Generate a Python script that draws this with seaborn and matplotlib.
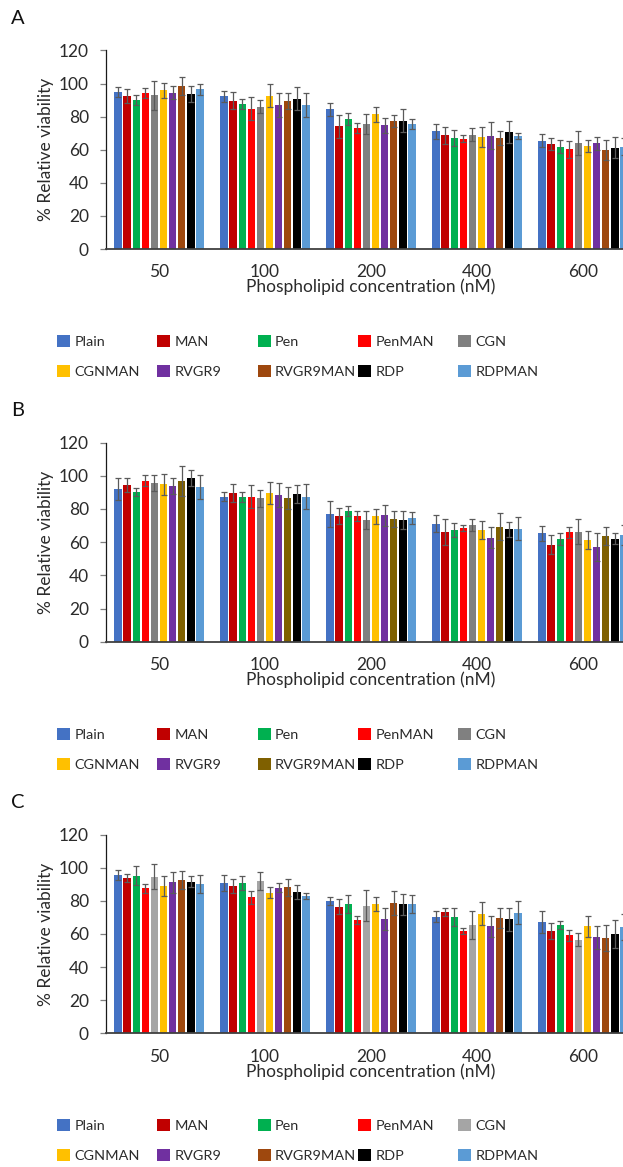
import numpy as np
import pandas as pd
import matplotlib
matplotlib.use("Agg")
import matplotlib.pyplot as plt
from matplotlib.patches import Patch
import seaborn as sns

# ---------------- data ----------------
concentrations = ["50", "100", "200", "400", "600"]
formulations = ["Plain", "MAN", "Pen", "PenMAN", "CGN",
                "CGNMAN", "RVGR9", "RVGR9MAN", "RDP", "RDPMAN"]

# rows = concentrations, columns = formulations
A_mean = [[95.0, 92.4, 90.0, 94.0, 92.8, 96.0, 94.4, 98.4, 93.6, 96.6],
          [92.2, 89.6, 87.6, 84.7, 86.0, 92.6, 87.0, 89.4, 90.8, 87.0],
          [84.5, 74.1, 78.5, 73.3, 75.5, 81.3, 74.7, 77.1, 77.5, 75.3],
          [71.1, 68.7, 67.1, 66.7, 69.1, 67.5, 68.5, 67.1, 70.7, 68.3],
          [65.5, 63.5, 61.8, 60.2, 64.0, 62.2, 63.9, 59.8, 61.2, 61.8]]
A_err = [[3.0, 4.0, 3.0, 3.0, 9.0, 4.5, 4.0, 5.6, 5.0, 3.4],
         [3.4, 5.0, 3.0, 7.0, 4.0, 7.0, 7.0, 5.0, 7.0, 7.5],
         [4.0, 7.0, 3.4, 3.0, 6.0, 4.6, 4.6, 3.6, 7.0, 3.0],
         [4.4, 5.0, 4.6, 2.0, 4.0, 6.0, 8.0, 4.0, 6.6, 2.0],
         [4.0, 3.4, 4.0, 5.0, 7.4, 3.4, 4.0, 6.0, 6.2, 5.0]]

B_mean = [[92.0, 94.4, 90.0, 97.0, 95.6, 94.8, 94.0, 96.6, 98.6, 93.2],
          [87.3, 89.6, 87.1, 87.3, 86.3, 89.8, 88.2, 86.3, 88.8, 87.3],
          [77.1, 75.7, 78.5, 75.7, 73.3, 75.5, 76.1, 73.7, 73.3, 74.5],
          [71.1, 65.9, 67.1, 68.7, 70.3, 67.1, 62.7, 69.3, 67.7, 68.1],
          [65.3, 58.4, 61.6, 65.9, 66.3, 61.2, 56.8, 63.7, 62.0, 64.1]]
B_err = [[6.4, 4.4, 2.4, 3.2, 4.6, 6.2, 4.8, 9.0, 4.8, 7.2],
         [2.6, 5.2, 2.8, 7.0, 5.2, 6.6, 7.2, 6.6, 5.4, 7.6],
         [7.8, 5.0, 3.0, 2.8, 5.2, 4.6, 6.4, 4.8, 5.2, 3.8],
         [5.2, 7.8, 4.2, 1.8, 3.8, 5.4, 6.4, 8.2, 4.4, 6.8],
         [4.4, 5.6, 3.6, 3.4, 7.4, 5.2, 8.4, 5.4, 3.4, 6.0]]

C_mean = [[95.6, 93.6, 95.2, 87.5, 94.6, 88.9, 91.1, 92.6, 91.5, 90.3],
          [90.9, 88.9, 90.7, 82.1, 91.9, 84.9, 87.9, 88.1, 85.5, 82.9],
          [79.9, 76.5, 78.1, 68.2, 77.1, 78.1, 68.8, 78.5, 77.9, 78.1],
          [70.4, 73.2, 70.2, 61.8, 65.4, 72.2, 64.6, 69.4, 68.8, 72.8],
          [67.2, 61.8, 65.2, 59.2, 56.5, 64.6, 57.9, 57.7, 59.8, 64.0]]
C_err = [[3.2, 2.4, 5.6, 2.6, 7.6, 6.0, 6.4, 5.2, 3.2, 5.6],
         [4.8, 4.4, 4.4, 3.8, 5.4, 3.4, 2.6, 5.0, 4.2, 2.0],
         [2.4, 4.4, 5.2, 2.4, 9.2, 4.2, 6.6, 7.2, 6.2, 5.2],
         [3.4, 2.6, 5.2, 1.8, 8.4, 6.8, 6.4, 6.0, 7.0, 7.0],
         [6.6, 5.0, 2.4, 3.2, 4.0, 6.4, 6.8, 7.8, 8.4, 7.8]]

panel_labels = ["A", "B", "C"]

# ---------------- styles ----------------
pal_A = ["#4472C4", "#C00000", "#00B050", "#FF0000", "#808080",
         "#FFC000", "#7030A0", "#9E480E", "#000000", "#5B9BD5"]
pal_B = ["#4472C4", "#C00000", "#00B050", "#FF0000", "#808080",
         "#FFC000", "#7030A0", "#7F6000", "#000000", "#5B9BD5"]
pal_C = ["#4472C4", "#C00000", "#00B050", "#FF0000", "#A5A5A5",
         "#FFC000", "#7030A0", "#9E480E", "#000000", "#5B9BD5"]

sns.set_style("white")
plt.rcParams["font.family"] = ["Lato", "DejaVu Sans"]
TXT = "#2b2b2b"
FS_TICK = 12.5
FS_LAB = 12.5
FS_LEG = 10.4

W, H = 623, 1167
fig = plt.figure(figsize=(W / 100, H / 100), dpi=100)

panels = [("A", A_mean, A_err, pal_A, 249.0, 198.6),
          ("B", B_mean, B_err, pal_B, 641.7, 199.2),
          ("C", C_mean, C_err, pal_C, 1033.3, 198.7)]

ax_left = 106
ax_width = 530

for lab, means, errs, pal, y0, hpx in panels:
    ax = fig.add_axes([ax_left / W, 1 - y0 / H, ax_width / W, hpx / H])
    rows = []
    for ci, c in enumerate(concentrations):
        for fi, f in enumerate(formulations):
            rows.append({"conc": c, "form": f, "value": means[ci][fi]})
    df = pd.DataFrame(rows)
    sns.barplot(data=df, x="conc", y="value", hue="form", order=concentrations,
                hue_order=formulations, palette=pal, width=0.86, gap=0.2,
                errorbar=None, legend=False, saturation=1, ax=ax,
                edgecolor="none")
    bar_conts = list(ax.containers)
    for fi, cont in enumerate(bar_conts):
        xs = [p.get_x() + p.get_width() / 2 for p in cont.patches]
        ys = [means[ci][fi] for ci in range(len(concentrations))]
        es = [errs[ci][fi] for ci in range(len(concentrations))]
        ax.errorbar(xs, ys, yerr=es, fmt="none", ecolor="#5a5a5a",
                    elinewidth=0.9, capsize=2.2, capthick=0.9, zorder=5)
    ax.set_xlim(-0.5, 4.5)
    ax.set_ylim(0, 120)
    ax.set_yticks(np.arange(0, 121, 20))
    for s in ["top", "right"]:
        ax.spines[s].set_visible(False)
    ax.spines["left"].set_color("#1a1a1a")
    ax.spines["left"].set_linewidth(0.9)
    ax.spines["bottom"].set_color("#404040")
    ax.spines["bottom"].set_linewidth(1.3)
    ax.tick_params(axis="y", which="major", left=True, length=4.3, width=0.9,
                   color="#7F7F7F", pad=8.0, labelsize=FS_TICK, labelcolor=TXT)
    ax.tick_params(axis="x", which="major", bottom=False, length=0, pad=11,
                   labelsize=FS_TICK, labelcolor=TXT)
    ax.set_xlabel("Phospholipid concentration (nM)", fontsize=FS_LAB, color=TXT)
    ax.set_ylabel("% Relative viability", fontsize=FS_LAB, color=TXT)
    ax.xaxis.set_label_coords(0.5, -38 / hpx)
    ax.xaxis.label.set_va("center")
    ax.yaxis.set_label_coords(-60 / ax_width, 0.5)
    ax.yaxis.label.set_va("center")
    ax.grid(False)

    # panel letter
    fig.text(18 / W, 1 - (y0 - 231) / H, lab, ha="center", va="center",
             fontsize=14.5, color="#111111")

    # legend: 2 rows x 5 columns, placed entry by entry
    for k, f in enumerate(formulations):
        r, col = divmod(k, 5)
        xk = 57 + 100.3 * col
        yk = y0 + 92.5 + 30 * r
        fig.legend(handles=[Patch(facecolor=pal[k], edgecolor="none")],
                   labels=[f], loc="center left",
                   bbox_to_anchor=(xk / W, 1 - yk / H),
                   frameon=False, borderpad=0, borderaxespad=0,
                   handlelength=0.9, handleheight=0.9, handletextpad=0.3,
                   fontsize=FS_LEG, labelcolor=TXT)

fig.savefig("out.png", dpi=100)
